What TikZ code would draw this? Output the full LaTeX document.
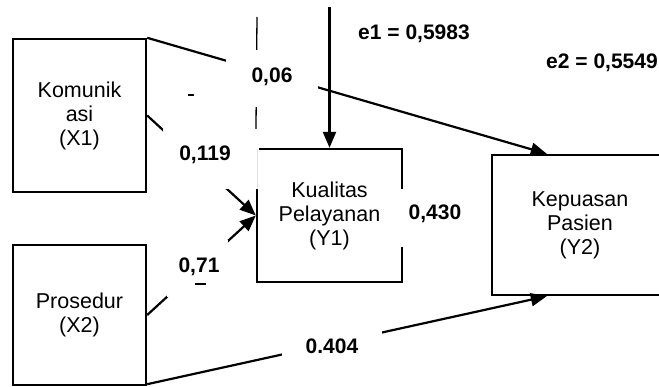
\documentclass[tikz,border=0pt]{standalone}
\usepackage{fontspec}
\setmainfont{Liberation Sans}
\usetikzlibrary{arrows.meta,calc}
\begin{document}
\begin{tikzpicture}[x=1pt,y=-1pt,
  varbox/.style={draw,line width=2.4pt,inner sep=0pt,align=center,
    font=\fontsize{21.5}{24}\selectfont},
  conn/.style={line width=2.2pt,-{Triangle[length=16pt,width=13pt]}},
  thinline/.style={line width=1.3pt},
  coef/.style={font=\fontsize{21}{24}\selectfont\bfseries,inner sep=0pt},
  gap/.style={fill=white,draw=none}]
\useasboundingbox (0,0) rectangle (659,387);
\begin{scope}
\clip (0,0) rectangle (659,387);
% variable boxes
\node[varbox,minimum width=133pt,minimum height=153pt] (kom) at (79.5,115.5) {Komunik\\asi\\(X1)};
\node[varbox,minimum width=133pt,minimum height=140pt] (pro) at (79.5,315) {Prosedur\\(X2)};
\node[varbox,minimum width=145pt,minimum height=133pt] (kua) at (329.5,215.5) {Kualitas\\Pelayanan\\(Y1)};
\node[varbox,minimum width=176pt,minimum height=140pt] (kep) at (580,225) {Kepuasan\\Pasien\\(Y2)};
% free ends
\coordinate (vtop) at (257,17);
\coordinate (etop) at (329.5,7);
% connectors
\draw[thinline] (vtop) -- (kua.north west);
\draw[conn] (etop) -- (kua.north);
\draw[conn] (kom.north east) -- ($(kep.north west)+(56,0)$);
\draw[conn] (kom.east) -- (kua.west);
\draw[conn] (pro.east) -- (kua.west);
\draw[conn] ($(pro.south east)+(0,-2)$) -- ($(kep.south west)+(56,0)$);
% white label backgrounds that break the lines
\fill[gap] (226,50) rectangle (318,107);
\fill[gap] (163,129) rectangle (258.5,189);
\fill[gap] (167,240) rectangle (228,297);
\fill[gap] (395,189) rectangle (470,247);
\fill[gap] (282,322) rectangle (382,362);
\draw[line width=0.8pt,black!12] (257,149) -- (257,189);
% stray marks
\draw[line width=1.5pt] (188,95) -- (194,95);
\draw[line width=1.5pt] (195,284) -- (206,284);
% coefficients
\node[coef] (le1) at (414,34) {e1 = 0,5983};
\node[coef] (le2) at (602,63) {e2 = 0,5549};
\node[coef] (l06) at (272,77) {0,06};
\node[coef] (l119) at (205,155) {0,119};
\node[coef] (l71) at (199,267) {0,71};
\node[coef] (l430) at (435,214) {0,430};
\node[coef] (l404) at (332,346) {0.404};
\end{scope}
\end{tikzpicture}
\end{document}
